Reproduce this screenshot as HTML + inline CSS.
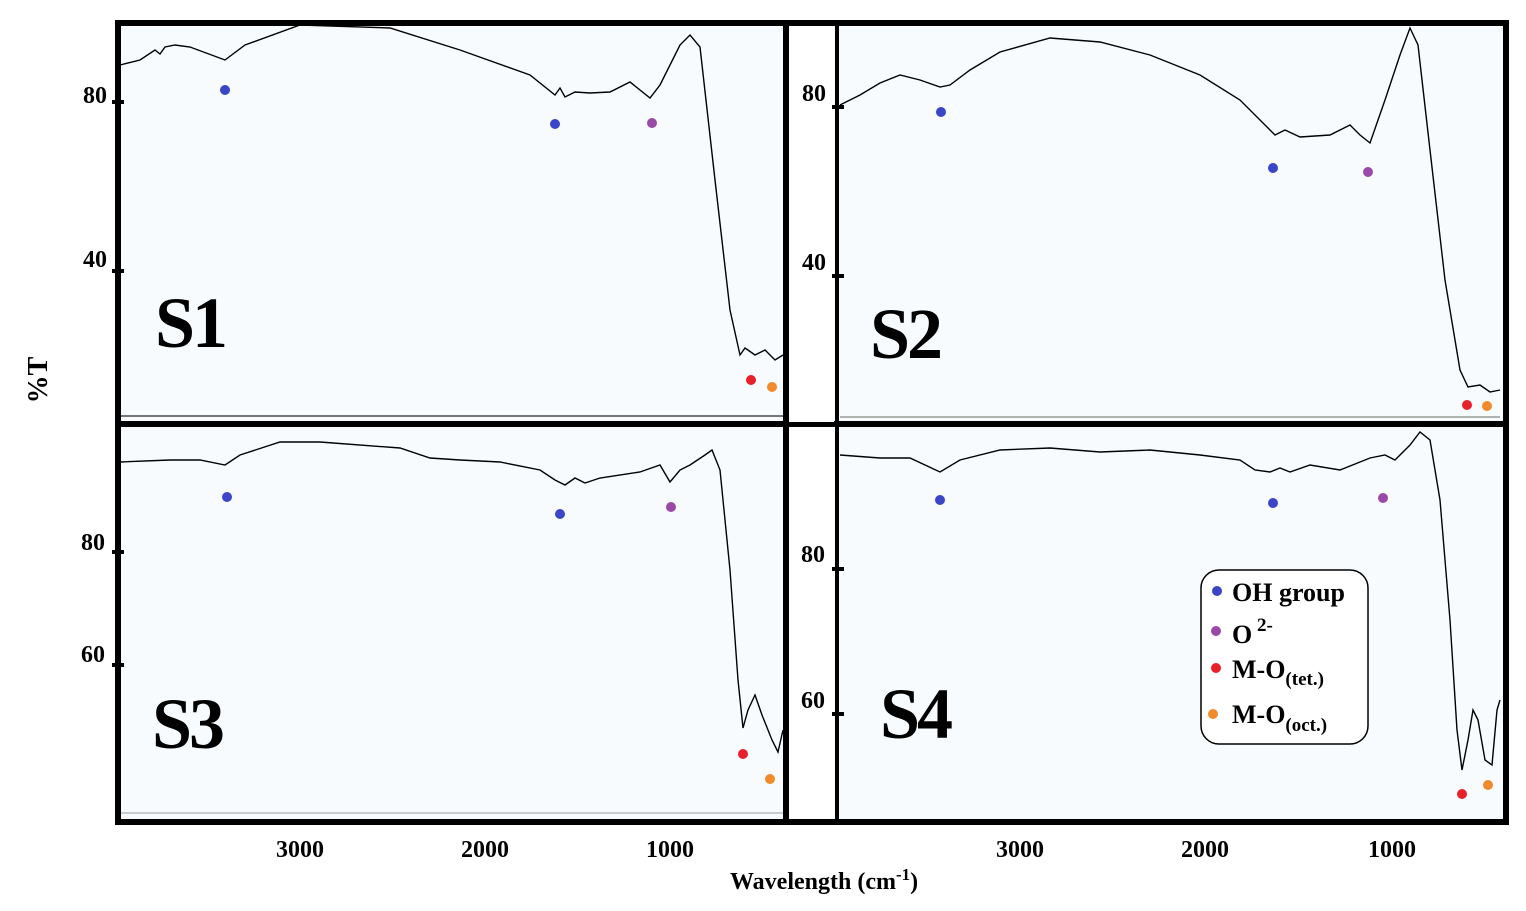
<!DOCTYPE html>
<html><head><meta charset="utf-8"><style>
body{margin:0;background:#fff;}
svg{display:block;font-family:"Liberation Serif",serif;font-weight:bold;}
</style></head><body>
<svg width="1526" height="911" viewBox="0 0 1526 911">
<rect x="0" y="0" width="1526" height="911" fill="#fff"/>
<rect x="120" y="25" width="1384" height="795" fill="#f7fbfe"/>
<line x1="120" y1="416" x2="783" y2="416" stroke="#777" stroke-width="2"/>
<line x1="840" y1="417" x2="1500" y2="417" stroke="#999" stroke-width="1.5"/>
<line x1="120" y1="813" x2="783" y2="813" stroke="#999" stroke-width="1"/>
<g fill="none" stroke="#000" stroke-width="1.4">
<polyline points="120,65 140,60 155,50 160,54 165,47 175,45 190,47 225,60 245,45 300,25 390,28 460,50 530,75 555,95 560,88 565,97 575,92 590,93 610,92 630,82 650,98 660,85 680,45 690,35 700,47 715,180 730,310 740,355 745,348 755,355 765,350 775,360 783,355"/>
<polyline points="840,105 860,95 880,83 900,75 920,80 940,87 950,85 970,70 1000,52 1050,38 1100,42 1150,55 1200,75 1240,100 1265,125 1275,135 1285,130 1300,137 1330,135 1350,125 1360,135 1370,143 1385,100 1400,55 1410,28 1418,45 1430,150 1445,280 1460,370 1468,387 1480,385 1490,392 1500,390"/>
<polyline points="120,462 170,460 200,460 225,465 240,455 280,442 320,442 400,448 430,458 460,460 500,462 540,470 555,480 565,485 575,478 585,483 600,478 640,472 660,465 670,482 680,470 690,465 705,455 712,450 720,470 730,570 738,680 743,728 748,710 755,695 762,715 772,740 778,752 783,730"/>
<polyline points="840,455 880,458 910,458 940,472 960,460 1000,450 1050,448 1100,452 1150,450 1200,455 1240,460 1255,470 1270,472 1280,468 1290,472 1310,465 1340,470 1370,458 1385,455 1395,460 1410,445 1420,432 1430,440 1440,500 1450,620 1457,730 1462,770 1468,740 1473,710 1478,720 1485,760 1492,765 1497,710 1500,700"/>
</g>
<g fill="none" stroke="#000" stroke-width="6">
<rect x="118" y="23" width="1388" height="799"/>
<line x1="786" y1="23" x2="786" y2="822"/>
<line x1="837" y1="23" x2="837" y2="822" stroke-width="4"/>
<line x1="118" y1="424" x2="1506" y2="424"/>
</g>
<rect x="789" y="26" width="45" height="396" fill="#fff"/>
<rect x="789" y="427" width="45" height="392" fill="#fff"/>
<g stroke="#000" stroke-width="4">
<line x1="112" y1="102" x2="124" y2="102"/><line x1="112" y1="271" x2="124" y2="271"/>
<line x1="832" y1="107" x2="844" y2="107"/><line x1="832" y1="276" x2="844" y2="276"/>
<line x1="112" y1="552" x2="124" y2="552"/><line x1="112" y1="665" x2="124" y2="665"/>
<line x1="832" y1="569" x2="844" y2="569"/><line x1="832" y1="714" x2="844" y2="714"/>
</g>
<g font-size="24" fill="#000">
<text x="83" y="103">80</text><text x="83" y="267">40</text>
<text x="802" y="101">80</text><text x="802" y="270">40</text>
<text x="81" y="550">80</text><text x="81" y="662">60</text>
<text x="801" y="562">80</text><text x="801" y="708">60</text>
<text x="300" y="857" text-anchor="middle">3000</text>
<text x="485" y="857" text-anchor="middle">2000</text>
<text x="670" y="857" text-anchor="middle">1000</text>
<text x="1020" y="857" text-anchor="middle">3000</text>
<text x="1205" y="857" text-anchor="middle">2000</text>
<text x="1392" y="857" text-anchor="middle">1000</text>
<text x="730" y="889">Wavelength (cm<tspan font-size="17" dy="-9">-1</tspan><tspan dy="9">)</tspan></text>
<text transform="translate(47,380) rotate(-90)" text-anchor="middle" font-size="28">%T</text>
</g>
<g font-size="72" fill="#000" letter-spacing="-3">
<text x="155" y="347">S1</text><text x="870" y="358">S2</text>
<text x="152" y="748">S3</text><text x="880" y="738">S4</text>
</g>
<g>
<circle cx="225" cy="90" r="5" fill="#3a45c8"/><circle cx="555" cy="124" r="5" fill="#3a45c8"/><circle cx="652" cy="123" r="5" fill="#9b49a8"/>
<circle cx="751" cy="380" r="5" fill="#e8202a"/><circle cx="772" cy="387" r="5" fill="#f08a2a"/>
<circle cx="941" cy="112" r="5" fill="#3a45c8"/><circle cx="1273" cy="168" r="5" fill="#3a45c8"/><circle cx="1368" cy="172" r="5" fill="#9b49a8"/>
<circle cx="1467" cy="405" r="5" fill="#e8202a"/><circle cx="1487" cy="406" r="5" fill="#f08a2a"/>
<circle cx="227" cy="497" r="5" fill="#3a45c8"/><circle cx="560" cy="514" r="5" fill="#3a45c8"/><circle cx="671" cy="507" r="5" fill="#9b49a8"/>
<circle cx="743" cy="754" r="5" fill="#e8202a"/><circle cx="770" cy="779" r="5" fill="#f08a2a"/>
<circle cx="940" cy="500" r="5" fill="#3a45c8"/><circle cx="1273" cy="503" r="5" fill="#3a45c8"/><circle cx="1383" cy="498" r="5" fill="#9b49a8"/>
<circle cx="1462" cy="794" r="5" fill="#e8202a"/><circle cx="1488" cy="785" r="5" fill="#f08a2a"/>
</g>
<rect x="1201" y="570" width="167" height="174" rx="18" fill="#fff" stroke="#000" stroke-width="1.5"/>
<g font-size="26" fill="#000">
<circle cx="1217" cy="591" r="5" fill="#3a45c8"/><text x="1232" y="601">OH group</text>
<circle cx="1216" cy="631" r="5" fill="#9b49a8"/><text x="1232" y="643">O<tspan font-size="19" dy="-12"> 2-</tspan></text>
<circle cx="1216" cy="668" r="5" fill="#e8202a"/><text x="1232" y="678">M-O<tspan font-size="19" dy="7">(tet.)</tspan></text>
<circle cx="1213" cy="714" r="5" fill="#f08a2a"/><text x="1232" y="723">M-O<tspan font-size="19" dy="8">(oct.)</tspan></text>
</g>
</svg>
</body></html>
